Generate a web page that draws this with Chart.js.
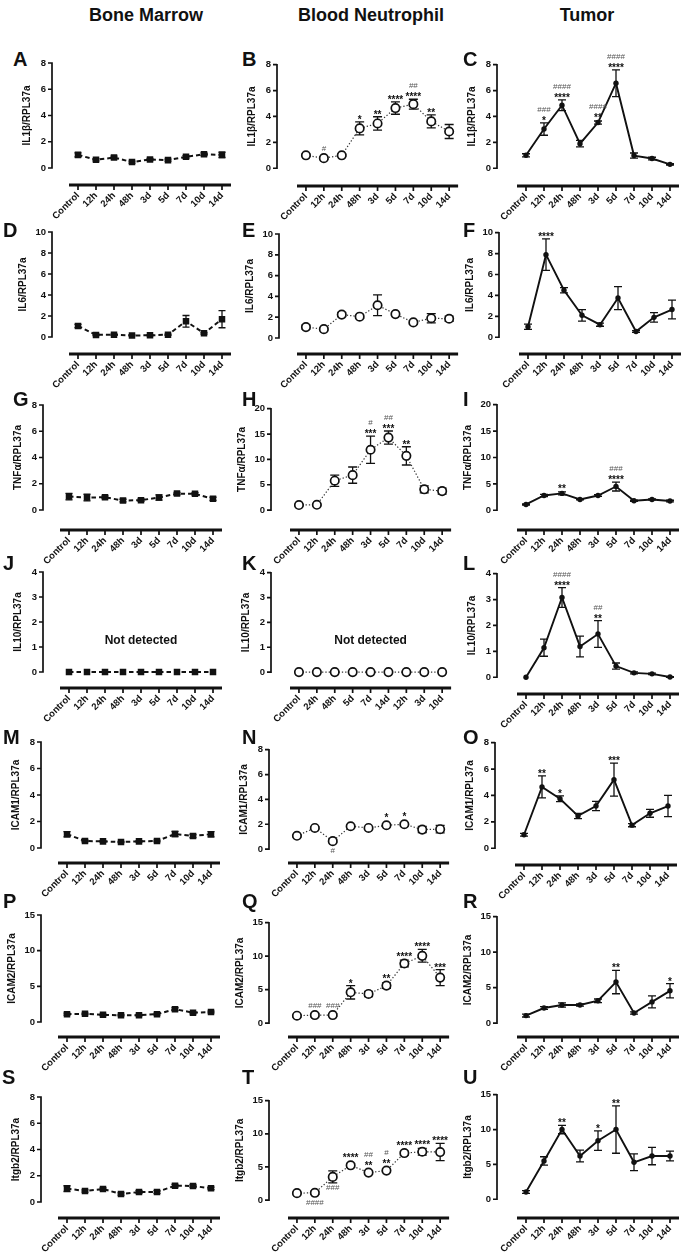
<!DOCTYPE html>
<html>
<head>
<meta charset="utf-8">
<title>Expression time course</title>
<script src="https://cdn.jsdelivr.net/npm/chart.js@4.4.1/dist/chart.umd.min.js"></script>
<style>
  html, body { margin: 0; padding: 0; background: #fff; }
  body { position: relative; width: 685px; height: 1252px; overflow: hidden; font-family: "Liberation Sans", Arial, sans-serif; color: #111; }
  .col-title { position: absolute; top: 6px; font-size: 18px; line-height: 18px; font-weight: bold; transform: translateX(-50%); white-space: nowrap; }
  .panel-letter { position: absolute; font-size: 20px; line-height: 20px; font-weight: bold; }
  canvas { position: absolute; }
</style>
</head>
<body>
<div class="col-title" style="left:146px">Bone Marrow</div>
<div class="col-title" style="left:371px">Blood Neutrophil</div>
<div class="col-title" style="left:587px">Tumor</div>
<script>
const FONT = '"Liberation Sans", Arial, sans-serif';

const timePoints = ['Control', '12h', '24h', '48h', '3d', '5d', '7d', '10d', '14d'];
const timePointsK = ['Control', '24h', '48h', '5d', '7d', '14d', '12h', '3d', '10d'];
const noSem = [0, 0, 0, 0, 0, 0, 0, 0, 0];

// IL1b
const aMean = [1.0, 0.62, 0.8, 0.45, 0.65, 0.6, 0.85, 1.05, 1.0];
const aSem  = [0.15, 0.08, 0.1, 0.08, 0.08, 0.07, 0.1, 0.1, 0.2];
const bMean = [1.0, 0.78, 1.0, 3.08, 3.46, 4.65, 4.95, 3.62, 2.84];
const bSem  = [0.08, 0.1, 0.08, 0.5, 0.52, 0.48, 0.38, 0.5, 0.54];
const bSig  = ['', '#', '', '*', '**', '****', '##|****', '**', ''];
const cMean = [1.0, 3.03, 4.87, 1.9, 3.53, 6.57, 0.98, 0.75, 0.3];
const cSem  = [0.12, 0.48, 0.42, 0.25, 0.12, 1.03, 0.2, 0.1, 0.05];
const cSig  = ['', '###|*', '####|****', '', '####|**', '####|****', '', '', ''];

// IL6
const dMean = [1.05, 0.2, 0.22, 0.15, 0.16, 0.22, 1.5, 0.35, 1.7];
const dSem  = [0.15, 0.06, 0.06, 0.05, 0.05, 0.06, 0.55, 0.08, 0.82];
const eMean = [1.05, 0.85, 2.25, 2.05, 3.15, 2.3, 1.5, 1.9, 1.85];
const eSem  = [0.2, 0.1, 0.2, 0.15, 1.0, 0.15, 0.15, 0.45, 0.25];
const fMean = [1.0, 7.9, 4.5, 2.1, 1.2, 3.75, 0.55, 1.9, 2.65];
const fSem  = [0.25, 1.5, 0.25, 0.55, 0.15, 1.1, 0.08, 0.45, 0.9];
const fSig  = ['', '****', '', '', '', '', '', '', ''];

// TNFa
const gMean = [1.02, 0.95, 0.97, 0.72, 0.75, 0.95, 1.25, 1.23, 0.85];
const gSem  = [0.25, 0.25, 0.1, 0.1, 0.1, 0.2, 0.1, 0.1, 0.12];
const hMean = [1.0, 1.05, 5.8, 6.9, 11.9, 14.3, 10.7, 4.1, 3.75];
const hSem  = [0.15, 0.15, 1.1, 1.6, 2.7, 1.3, 1.8, 0.7, 0.6];
const hSig  = ['', '', '', '', '#|***', '##|***', '**', '', ''];
const iMean = [1.1, 2.8, 3.2, 2.05, 2.8, 4.5, 1.8, 2.05, 1.75];
const iSem  = [0.1, 0.2, 0.3, 0.1, 0.15, 0.85, 0.1, 0.1, 0.15];
const iSig  = ['', '', '**', '', '', '###|****', '', '', ''];

// IL10
const jMean = [0, 0, 0, 0, 0, 0, 0, 0, 0];
const kMean = [0, 0, 0, 0, 0, 0, 0, 0, 0];
const lMean = [0.0, 1.14, 3.08, 1.19, 1.67, 0.43, 0.17, 0.13, 0.01];
const lSem  = [0.0, 0.33, 0.38, 0.4, 0.52, 0.12, 0.04, 0.03, 0.01];
const lSig  = ['', '', '####|****', '', '##|**', '', '', '', ''];

// ICAM1
const mMean = [1.04, 0.53, 0.5, 0.45, 0.5, 0.53, 1.06, 0.91, 1.04];
const mSem  = [0.2, 0.06, 0.05, 0.05, 0.05, 0.06, 0.2, 0.12, 0.2];
const nMean = [1.07, 1.7, 0.64, 1.84, 1.7, 1.92, 2.0, 1.57, 1.6];
const nSem  = [0.08, 0.08, 0.1, 0.08, 0.1, 0.12, 0.1, 0.25, 0.3];
const nSig  = ['', '', '', '', '', '*', '*', '', ''];
const nSigBelow = ['', '', '#', '', '', '', '', '', ''];
const oMean = [1.02, 4.65, 3.75, 2.45, 3.2, 5.2, 1.75, 2.65, 3.2];
const oSem  = [0.1, 0.83, 0.22, 0.2, 0.35, 1.25, 0.12, 0.3, 0.8];
const oSig  = ['', '**', '*', '', '', '***', '', '', ''];

// ICAM2
const pMean = [1.1, 1.15, 1.0, 0.95, 0.95, 1.1, 1.8, 1.3, 1.4];
const pSem  = [0.15, 0.1, 0.1, 0.1, 0.1, 0.15, 0.2, 0.15, 0.12];
const qMean = [1.1, 1.2, 1.2, 4.6, 4.35, 5.6, 8.9, 10.05, 6.8];
const qSem  = [0.2, 0.25, 0.2, 1.0, 0.4, 0.4, 0.5, 0.95, 1.2];
const qSig  = ['', '###', '###', '*', '', '**', '****', '****', '***'];
const rMean = [1.07, 2.14, 2.56, 2.56, 3.16, 5.8, 1.44, 3.0, 4.56];
const rSem  = [0.2, 0.2, 0.3, 0.15, 0.25, 1.65, 0.15, 0.85, 1.0];
const rSig  = ['', '', '', '', '', '**', '', '', '*'];

// Itgb2
const sMean = [1.02, 0.84, 0.99, 0.61, 0.76, 0.76, 1.24, 1.22, 1.04];
const sSem  = [0.22, 0.08, 0.08, 0.08, 0.1, 0.1, 0.1, 0.1, 0.1];
const tMean = [1.05, 1.1, 3.5, 5.25, 4.15, 4.45, 7.1, 7.3, 7.25];
const tSem  = [0.1, 0.25, 0.9, 0.3, 0.25, 0.25, 0.3, 0.5, 1.3];
const tSig  = ['', '', '', '****', '##|**', '#|**', '****', '****', '****'];
const tSigBelow = ['', '####', '###', '', '', '', '', '', ''];
const uMean = [1.04, 5.5, 10.0, 6.2, 8.4, 10.0, 5.3, 6.2, 6.2];
const uSem  = [0.2, 0.6, 0.6, 0.85, 1.4, 3.4, 1.2, 1.25, 0.7];
const uSig  = ['', '', '**', '', '*', '**', '', '', ''];

const panels = [
  { id: 'A', col: 0, title: 'IL1β/RPL37a', yMax: 8, step: 2, cats: timePoints, mean: aMean, sem: aSem },
  { id: 'B', col: 1, title: 'IL1β/RPL37a', yMax: 8, step: 2, cats: timePoints, mean: bMean, sem: bSem, sig: bSig },
  { id: 'C', col: 2, title: 'IL1β/RPL37a', yMax: 8, step: 2, cats: timePoints, mean: cMean, sem: cSem, sig: cSig },
  { id: 'D', col: 0, title: 'IL6/RPL37a', yMax: 10, step: 2, cats: timePoints, mean: dMean, sem: dSem },
  { id: 'E', col: 1, title: 'IL6/RPL37a', yMax: 10, step: 2, cats: timePoints, mean: eMean, sem: eSem },
  { id: 'F', col: 2, title: 'IL6/RPL37a', yMax: 10, step: 2, cats: timePoints, mean: fMean, sem: fSem, sig: fSig },
  { id: 'G', col: 0, title: 'TNFα/RPL37a', yMax: 8, step: 2, cats: timePoints, mean: gMean, sem: gSem },
  { id: 'H', col: 1, title: 'TNFα/RPL37a', yMax: 20, step: 5, cats: timePoints, mean: hMean, sem: hSem, sig: hSig },
  { id: 'I', col: 2, title: 'TNFα/RPL37a', yMax: 20, step: 5, cats: timePoints, mean: iMean, sem: iSem, sig: iSig },
  { id: 'J', col: 0, title: 'IL10/RPL37a', yMax: 4, step: 1, cats: timePoints, mean: jMean, sem: noSem, note: 'Not detected' },
  { id: 'K', col: 1, title: 'IL10/RPL37a', yMax: 4, step: 1, cats: timePointsK, mean: kMean, sem: noSem, note: 'Not detected' },
  { id: 'L', col: 2, title: 'IL10/RPL37a', yMax: 4, step: 1, cats: timePoints, mean: lMean, sem: lSem, sig: lSig },
  { id: 'M', col: 0, title: 'ICAM1/RPL37a', yMax: 8, step: 2, cats: timePoints, mean: mMean, sem: mSem },
  { id: 'N', col: 1, title: 'ICAM1/RPL37a', yMax: 8, step: 2, cats: timePoints, mean: nMean, sem: nSem, sig: nSig, below: nSigBelow },
  { id: 'O', col: 2, title: 'ICAM1/RPL37a', yMax: 8, step: 2, cats: timePoints, mean: oMean, sem: oSem, sig: oSig },
  { id: 'P', col: 0, title: 'ICAM2/RPL37a', yMax: 15, step: 5, cats: timePoints, mean: pMean, sem: pSem },
  { id: 'Q', col: 1, title: 'ICAM2/RPL37a', yMax: 15, step: 5, cats: timePoints, mean: qMean, sem: qSem, sig: qSig },
  { id: 'R', col: 2, title: 'ICAM2/RPL37a', yMax: 15, step: 5, cats: timePoints, mean: rMean, sem: rSem, sig: rSig },
  { id: 'S', col: 0, title: 'Itgb2/RPL37a', yMax: 8, step: 2, cats: timePoints, mean: sMean, sem: sSem },
  { id: 'T', col: 1, title: 'Itgb2/RPL37a', yMax: 15, step: 5, cats: timePoints, mean: tMean, sem: tSem, sig: tSig, below: tSigBelow },
  { id: 'U', col: 2, title: 'Itgb2/RPL37a', yMax: 15, step: 5, cats: timePoints, mean: uMean, sem: uSem, sig: uSig }
];

// page geometry per panel: y-axis x, x-axis start, y of max tick, y of zero, y of x-axis line
const frames = {
  A: [52, 69, 63, 168, 185],   B: [277, 297, 63, 168, 186],   C: [497, 517, 63, 168, 186],
  D: [52, 69, 232, 337, 354],  E: [279, 297, 234, 338, 354],  F: [499, 519, 231, 337, 354],
  G: [43, 60, 405, 510, 530],  H: [271, 290, 408, 510, 530],  I: [497, 517, 403, 510, 530],
  J: [43, 60, 572, 672, 688],  K: [271, 290, 572, 672, 688],  L: [497, 517, 572, 677, 694],
  M: [41, 58, 742, 848, 863],  N: [269, 288, 749, 849, 863],  O: [495, 515, 741, 848, 865],
  P: [41, 58, 915, 1022, 1037], Q: [269, 288, 922, 1023, 1037], R: [497, 517, 915, 1023, 1037],
  S: [41, 58, 1097, 1202, 1218], T: [269, 288, 1100, 1200, 1218], U: [497, 517, 1093, 1199, 1218]
};
const PLOT_W = 162;
const letterBaseline = [66, 237, 406, 570, 744, 908, 1084];
const letterLeft = [[13, 242, 463], [3, 242, 463], [13, 242, 463], [3, 242, 463], [3, 242, 463], [3, 242, 463], [2, 242, 463]];

const columnStyle = [
  { borderColor: '#111', borderWidth: 2, borderDash: [4.5, 3], pointStyle: 'rect', pointRadius: 4.6,
    pointBackgroundColor: '#111', pointBorderColor: '#111', pointBorderWidth: 0, cap: 3.5, r: 3.2 },
  { borderColor: '#333', borderWidth: 1.2, borderDash: [1.3, 2], pointStyle: 'circle', pointRadius: 4.2,
    pointBackgroundColor: '#fff', pointBorderColor: '#111', pointBorderWidth: 1.7, cap: 4.5, r: 5 },
  { borderColor: '#111', borderWidth: 1.9, borderDash: [], pointStyle: 'circle', pointRadius: 2.7,
    pointBackgroundColor: '#111', pointBorderColor: '#111', pointBorderWidth: 0, cap: 4, r: 2.7 }
];

function drawMarks(ctx, x, yUp, yDown, above, below) {
  ctx.textAlign = 'center';
  ctx.textBaseline = 'alphabetic';
  if (above) {
    let cur = yUp - 1;
    const items = above.split('|');
    for (let k = items.length - 1; k >= 0; k--) {
      const s = items[k];
      if (s[0] === '*') {
        ctx.font = 'bold 10px ' + FONT; ctx.fillStyle = '#111';
        ctx.fillText(s, x, cur + 2); cur -= 9;
      } else {
        ctx.font = '8px ' + FONT; ctx.fillStyle = '#555';
        ctx.fillText(s, x, cur - 1); cur -= 9;
      }
    }
  }
  if (below) {
    let cur = yDown + 2;
    below.split('|').forEach(s => {
      ctx.font = '8px ' + FONT; ctx.fillStyle = '#555';
      ctx.fillText(s, x, cur + 5); cur += 9;
    });
  }
}

function prismPlugin(p, f, canvasLeft, style) {
  const [axisX] = f;
  return {
    id: 'prism' + p.id,
    beforeDatasetsDraw(chart) {
      const ctx = chart.ctx, xs = chart.scales.x, ys = chart.scales.y, ca = chart.chartArea;
      const ax = axisX - canvasLeft;
      ctx.save();
      ctx.strokeStyle = '#111';
      ctx.lineCap = 'butt';
      // y axis line and ticks
      ctx.lineWidth = 1.7;
      ctx.beginPath();
      ctx.moveTo(ax, ys.getPixelForValue(0) + 0.8);
      ctx.lineTo(ax, ys.getPixelForValue(p.yMax) - 0.8);
      ys.ticks.forEach(t => {
        const y = ys.getPixelForValue(t.value);
        ctx.moveTo(ax, y); ctx.lineTo(ax - 4, y);
      });
      ctx.stroke();
      // offset x axis
      ctx.lineWidth = 3;
      ctx.beginPath();
      ctx.moveTo(ca.left, ca.bottom); ctx.lineTo(ca.right, ca.bottom);
      ctx.stroke();
      ctx.lineWidth = 1.7;
      ctx.beginPath();
      p.cats.forEach((c, i) => {
        const x = xs.getPixelForValue(i);
        ctx.moveTo(x, ca.bottom); ctx.lineTo(x, ca.bottom + 5);
      });
      ctx.stroke();
      // error bars
      ctx.lineWidth = 1.3;
      ctx.beginPath();
      p.mean.forEach((v, i) => {
        const e = p.sem[i];
        if (!e) return;
        const x = xs.getPixelForValue(i);
        const y1 = ys.getPixelForValue(v + e), y2 = ys.getPixelForValue(v - e);
        ctx.moveTo(x, y1); ctx.lineTo(x, y2);
        ctx.moveTo(x - style.cap, y1); ctx.lineTo(x + style.cap, y1);
        ctx.moveTo(x - style.cap, y2); ctx.lineTo(x + style.cap, y2);
      });
      ctx.stroke();
      ctx.restore();
    },
    afterDatasetsDraw(chart) {
      const ctx = chart.ctx, xs = chart.scales.x, ys = chart.scales.y, ca = chart.chartArea;
      ctx.save();
      p.mean.forEach((v, i) => {
        const a = p.sig ? p.sig[i] : '';
        const b = p.below ? p.below[i] : '';
        if (!a && !b) return;
        const x = xs.getPixelForValue(i);
        const yp = ys.getPixelForValue(v);
        const yUp = Math.min(ys.getPixelForValue(v + p.sem[i]), yp - style.r);
        const yDown = Math.max(ys.getPixelForValue(v - p.sem[i]), yp + style.r);
        drawMarks(ctx, x, yUp, yDown, a, b);
      });
      // y axis title
      const yMid = (ys.getPixelForValue(0) + ys.getPixelForValue(p.yMax)) / 2;
      const off = p.yMax >= 10 ? 29 : 25;
      ctx.translate(axisX - off - canvasLeft, yMid);
      ctx.rotate(-Math.PI / 2);
      ctx.font = 'bold 10px ' + FONT;
      ctx.fillStyle = '#111';
      ctx.textAlign = 'center';
      ctx.textBaseline = 'middle';
      ctx.fillText(p.title, 0, 0);
      ctx.restore();
      if (p.note) {
        ctx.save();
        ctx.font = 'bold 12px ' + FONT;
        ctx.fillStyle = '#111';
        ctx.textAlign = 'center';
        ctx.textBaseline = 'middle';
        ctx.fillText(p.note, (ca.left + ca.right) / 2, ys.getPixelForValue(1.25));
        ctx.restore();
      }
    }
  };
}

panels.forEach((p, idx) => {
  const f = frames[p.id];
  const [axisX, plotLeft, yTop, yZero, xLine] = f;
  const style = columnStyle[p.col];
  const row = Math.floor(idx / 3);

  const letter = document.createElement('div');
  letter.className = 'panel-letter';
  letter.textContent = p.id;
  letter.style.left = letterLeft[row][p.col] + 'px';
  letter.style.top = (letterBaseline[row] - 17) + 'px';
  document.body.appendChild(letter);

  const canvasLeft = Math.max(0, axisX - 46);
  const canvasTop = yTop - 30;
  const plotRight = plotLeft + PLOT_W;
  const W = plotRight + 5 - canvasLeft;
  const H = xLine + 46 - canvasTop;
  const yMin = -p.yMax * (xLine - yZero) / (yZero - yTop);

  const canvas = document.createElement('canvas');
  canvas.width = W; canvas.height = H;
  canvas.style.left = canvasLeft + 'px';
  canvas.style.top = canvasTop + 'px';
  canvas.style.width = W + 'px';
  canvas.style.height = H + 'px';
  document.body.appendChild(canvas);

  new Chart(canvas, {
    type: 'line',
    data: {
      labels: p.cats,
      datasets: [{
        data: p.mean,
        borderColor: style.borderColor,
        borderWidth: style.borderWidth,
        borderDash: style.borderDash,
        pointStyle: style.pointStyle,
        pointRadius: style.pointRadius,
        pointBackgroundColor: style.pointBackgroundColor,
        pointBorderColor: style.pointBorderColor,
        pointBorderWidth: style.pointBorderWidth,
        tension: 0,
        fill: false
      }]
    },
    options: {
      responsive: false,
      animation: false,
      events: [],
      layout: { padding: { top: yTop - canvasTop, right: 5, left: 0, bottom: 0 } },
      plugins: { legend: { display: false }, tooltip: { enabled: false } },
      scales: {
        x: {
          type: 'category',
          offset: true,
          grid: { display: false, drawTicks: false },
          border: { display: false },
          ticks: {
            autoSkip: false, minRotation: 45, maxRotation: 45, padding: 5, color: '#111',
            font: { family: FONT, size: 9.5, weight: 'bold' }
          },
          afterFit: s => { s.height = H - (xLine - canvasTop); }
        },
        y: {
          min: yMin,
          max: p.yMax,
          grid: { display: false, drawTicks: false },
          border: { display: false },
          ticks: {
            stepSize: p.step, padding: plotLeft - axisX + 6, color: '#111',
            font: { family: FONT, size: 9.5, weight: 'bold' }
          },
          afterBuildTicks: s => { s.ticks = s.ticks.filter(t => t.value >= -1e-9); },
          afterFit: s => { s.width = plotLeft - canvasLeft; }
        }
      }
    },
    plugins: [prismPlugin(p, f, canvasLeft, style)]
  });
});
</script>
</body>
</html>
